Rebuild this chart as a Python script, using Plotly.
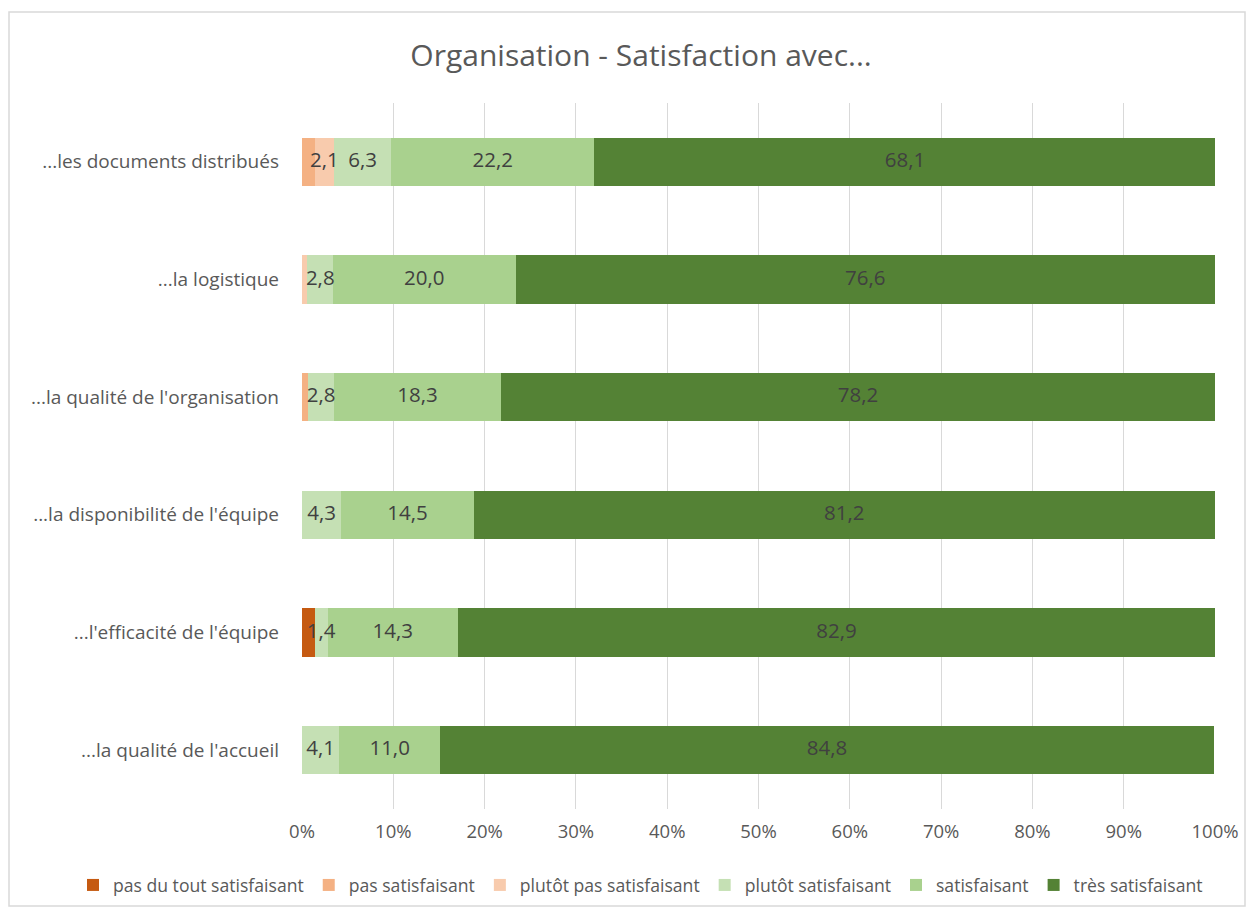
"""
Organisation - Satisfaction avec... : 100% stacked horizontal bars
"""
import plotly.graph_objects as go

# categories, bottom to top
categories = [
    "...la qualité de l'accueil",
    "...l'efficacité de l'équipe",
    "...la disponibilité de l'équipe",
    "...la qualité de l'organisation",
    "...la logistique",
    "...les documents distribués",
]

series_names = [
    "pas du tout satisfaisant",
    "pas satisfaisant",
    "plutôt pas satisfaisant",
    "plutôt satisfaisant",
    "satisfaisant",
    "très satisfaisant",
]

pas_du_tout = [0, 1.4, 0, 0, 0, 0]
pas_satisf = [0, 0, 0, 0.7, 0, 1.4]
plutot_pas = [0, 0, 0, 0, 0.6, 2.1]
plutot_satisf = [4.1, 1.4, 4.3, 2.8, 2.8, 6.3]
satisf = [11.0, 14.3, 14.5, 18.3, 20.0, 22.2]
tres_satisf = [84.8, 82.9, 81.2, 78.2, 76.6, 68.1]

# which segments carry a value label (small ones are left unlabelled)
show_label = [
    [False] * 6,
    [False] * 6,
    [False, False, False, False, False, True],
    [True] * 6,
    [True] * 6,
    [True] * 6,
]

colors = ['#C55A11', '#F4B183', '#F8CBAD', '#C5E0B4', '#A9D18E', '#548235']
all_series = [pas_du_tout, pas_satisf, plutot_pas, plutot_satisf, satisf, tres_satisf]

FONT = "Open Sans"

fig = go.Figure()
for name, vals, col in zip(series_names, all_series, colors):
    fig.add_trace(go.Bar(
        y=categories,
        x=vals,
        name=name,
        orientation='h',
        marker=dict(color=col, line=dict(width=0)),
        hoverinfo='x+name',
    ))

# value labels on top of all bars, centred in their segment
lab_x, lab_y, lab_t = [], [], []
start = [0.0] * len(categories)
for vals, lab in zip(all_series, show_label):
    for i, (v, s) in enumerate(zip(vals, lab)):
        if s and v > 0:
            lab_x.append(start[i] + v / 2)
            lab_y.append(categories[i])
            lab_t.append(f"{v:.1f}".replace('.', ','))
        start[i] += v

fig.add_trace(go.Scatter(
    x=lab_x, y=lab_y, text=lab_t,
    mode='text',
    textposition='middle center',
    textfont=dict(family=FONT, size=20.5, color='#404040'),
    showlegend=False,
    hoverinfo='skip',
    cliponaxis=False,
))

W, H = 1238, 900
fig.update_layout(
    barmode='stack',
    bargap=0.59,
    width=W,
    height=H,
    paper_bgcolor='white',
    plot_bgcolor='white',
    font=dict(family=FONT, color='#595959', size=18),
    title=dict(
        text="Organisation - Satisfaction avec...",
        x=(641 - 8) / W, xanchor='center', xref='container',
        y=1 - 47 / H, yanchor='middle', yref='container',
        font=dict(family=FONT, size=30, color='#595959'),
    ),
    margin=dict(l=294, r=31, t=95, b=99, autoexpand=False),
    legend=dict(
        orientation='h',
        xref='paper', yref='paper',
        x=(73 - 302) / 913, xanchor='left',
        y=(809 - 885) / 706, yanchor='middle',
        bgcolor='rgba(0,0,0,0)',
        font=dict(family=FONT, size=17.6, color='#595959'),
        traceorder='normal',
    ),
    xaxis=dict(
        range=[0, 100],
        tickvals=list(range(0, 101, 10)),
        ticktext=[f"{t}%" for t in range(0, 101, 10)],
        showgrid=True,
        gridcolor='#D9D9D9',
        zeroline=False,
        showline=False,
        ticks='',
        ticklabelstandoff=9,
        tickfont=dict(family=FONT, size=18.5, color='#595959'),
    ),
    yaxis=dict(
        categoryorder='array',
        categoryarray=categories,
        showgrid=False,
        ticks='',
        ticklabelstandoff=22,
        tickfont=dict(family=FONT, size=19, color='#595959'),
    ),
    shapes=[dict(
        type='rect', xref='paper', yref='paper',
        x0=(9 - 302) / 913, x1=(1245 - 302) / 913,
        y0=(809 - 906) / 706, y1=(809 - 12) / 706,
        line=dict(color='#D9D9D9', width=1.5),
        layer='below',
    )],
)

fig.write_html("out.html")
